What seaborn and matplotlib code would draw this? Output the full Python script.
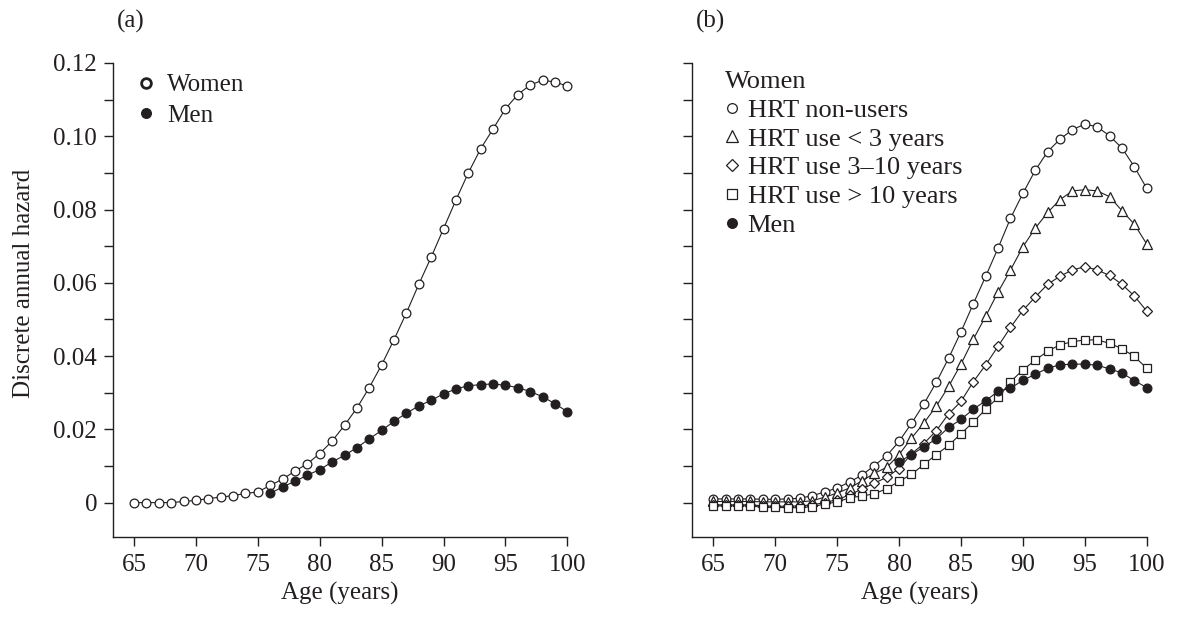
import matplotlib
matplotlib.use('Agg')
import matplotlib.pyplot as plt
import seaborn as sns
from matplotlib.lines import Line2D
from matplotlib.ticker import FixedLocator, NullFormatter

# ---------------- data ----------------
ages = list(range(65, 101))
women_a = [0.0000, 0.0000, 0.0000, 0.0000, 0.0003, 0.0006, 0.0011, 0.0015, 0.0019,
           0.0025, 0.0029, 0.0047, 0.0064, 0.0086, 0.0106, 0.0134, 0.0168, 0.0211,
           0.0258, 0.0314, 0.0376, 0.0445, 0.0518, 0.0596, 0.0670, 0.0748, 0.0826,
           0.0900, 0.0966, 0.1020, 0.1075, 0.1114, 0.1140, 0.1153, 0.1148, 0.1137]
men_a_ages = list(range(76, 101))
men_a = [0.0025, 0.0043, 0.0058, 0.0075, 0.0090, 0.0111, 0.0129, 0.0150, 0.0174,
         0.0197, 0.0222, 0.0244, 0.0264, 0.0279, 0.0297, 0.0310, 0.0319, 0.0322,
         0.0324, 0.0320, 0.0314, 0.0303, 0.0289, 0.0270, 0.0248]

hrt_non = [0.0010, 0.0010, 0.0010, 0.0010, 0.0009, 0.0009, 0.0010, 0.0012, 0.0019,
           0.0029, 0.0040, 0.0056, 0.0075, 0.0101, 0.0128, 0.0167, 0.0216, 0.0269,
           0.0328, 0.0394, 0.0466, 0.0543, 0.0618, 0.0695, 0.0776, 0.0844, 0.0907,
           0.0958, 0.0992, 0.1018, 0.1033, 0.1026, 0.1001, 0.0968, 0.0917, 0.0858]
hrt_lt3 = [0.0003, 0.0003, 0.0003, 0.0003, 0.0002, 0.0002, 0.0002, 0.0002, 0.0005,
           0.0015, 0.0026, 0.0040, 0.0059, 0.0080, 0.0096, 0.0131, 0.0176, 0.0217,
           0.0263, 0.0317, 0.0378, 0.0446, 0.0509, 0.0575, 0.0635, 0.0698, 0.0749,
           0.0792, 0.0827, 0.0851, 0.0854, 0.0851, 0.0835, 0.0797, 0.0760, 0.0706]
hrt_3_10 = [-0.0006, -0.0006, -0.0006, -0.0006, -0.0009, -0.0010, -0.0010, -0.0009, -0.0006,
            0.0000, 0.0008, 0.0021, 0.0037, 0.0053, 0.0069, 0.0093, 0.0133, 0.0161,
            0.0196, 0.0242, 0.0276, 0.0330, 0.0376, 0.0427, 0.0478, 0.0525, 0.0561,
            0.0596, 0.0618, 0.0635, 0.0644, 0.0635, 0.0620, 0.0596, 0.0564, 0.0523]
hrt_gt10 = [-0.0009, -0.0009, -0.0009, -0.0009, -0.0013, -0.0013, -0.0014, -0.0014, -0.0011,
            -0.0004, 0.0002, 0.0013, 0.0018, 0.0024, 0.0038, 0.0058, 0.0077, 0.0104,
            0.0131, 0.0156, 0.0188, 0.0220, 0.0255, 0.0287, 0.0330, 0.0362, 0.0389,
            0.0413, 0.0431, 0.0439, 0.0444, 0.0444, 0.0435, 0.0420, 0.0399, 0.0367]
men_b_ages = list(range(80, 101))
men_b = [0.0111, 0.0131, 0.0152, 0.0174, 0.0205, 0.0227, 0.0255, 0.0278, 0.0304,
         0.0312, 0.0334, 0.0350, 0.0367, 0.0376, 0.0378, 0.0378, 0.0375, 0.0365,
         0.0354, 0.0333, 0.0314]

x_ticks = [65, 70, 75, 80, 85, 90, 95, 100]
y_major = [0, 0.02, 0.04, 0.06, 0.08, 0.10, 0.12]
y_major_labels = ['0', '0.02', '0.04', '0.06', '0.08', '0.10', '0.12']
y_minor = [0.01, 0.03, 0.05, 0.07, 0.09, 0.11]
y_all = [0, 0.01, 0.02, 0.03, 0.04, 0.05, 0.06, 0.07, 0.08, 0.09, 0.10, 0.11, 0.12]

legend_a = ['Women', 'Men']
legend_b_title = 'Women'
legend_b = ['HRT non-users', 'HRT use < 3 years', 'HRT use 3\u201310 years',
            'HRT use > 10 years', 'Men']

# ---------------- style ----------------
sns.set_style('ticks')
plt.rcParams['font.family'] = ['Liberation Serif', 'DejaVu Serif']
ink = '#231f20'
FS = 18
FSB = 19

fig = plt.figure(figsize=(11.83, 6.17), dpi=100)
ax1 = fig.add_axes([0.0953, 0.1302, 0.3843, 0.7677])
ax2 = fig.add_axes([0.5850, 0.1302, 0.3843, 0.7677])

LW = 0.8
MS = 6.3
MEW = 0.9


def draw(ax, x, y, marker, face, ms=MS, z=3):
    sns.lineplot(x=x, y=y, ax=ax, color=ink, linewidth=LW, marker=marker,
                 markersize=ms, markerfacecolor=face, markeredgecolor=ink,
                 markeredgewidth=MEW, clip_on=False, zorder=z, estimator=None)


# panel (a)
draw(ax1, ages, women_a, 'o', 'white', z=3)
draw(ax1, men_a_ages, men_a, 'o', ink, z=4)

# panel (b)
draw(ax2, ages, hrt_non, 'o', 'white', z=3)
draw(ax2, ages, hrt_lt3, '^', 'white', ms=7.0, z=4)
draw(ax2, ages, hrt_3_10, 'D', 'white', ms=5.6, z=5)
draw(ax2, ages, hrt_gt10, 's', 'white', ms=6.2, z=6)
draw(ax2, men_b_ages, men_b, 'o', ink, z=7)

for ax in (ax1, ax2):
    ax.set_xlim(63.28, 100)
    ax.set_ylim(-0.0093, 0.12)
    ax.xaxis.set_major_locator(FixedLocator(x_ticks))
    ax.set_xticklabels([str(t) for t in x_ticks])
    sns.despine(ax=ax)
    for s in ('left', 'bottom'):
        ax.spines[s].set_linewidth(1.0)
        ax.spines[s].set_color(ink)
    ax.tick_params(axis='both', which='both', direction='out', length=6.2,
                   width=1.0, color=ink, labelcolor=ink, labelsize=FS)
    ax.tick_params(axis='x', pad=6)
    ax.tick_params(axis='y', pad=5)
    ax.set_xlabel('Age (years)', fontsize=FS, color=ink)
    ax.xaxis.set_label_coords(0.5, -0.095)
    ax.set_facecolor('white')

ax1.yaxis.set_major_locator(FixedLocator(y_major))
ax1.set_yticklabels(y_major_labels)
ax1.yaxis.set_minor_locator(FixedLocator(y_minor))
ax1.set_ylabel('Discrete annual hazard', fontsize=FS, color=ink)
ax1.yaxis.set_label_coords(-0.171, 0.5356)

ax2.yaxis.set_major_locator(FixedLocator(y_all))
ax2.yaxis.set_major_formatter(NullFormatter())
ax2.set_ylabel('')

# legends
mk = dict(color=ink, linestyle='none', markeredgecolor=ink)
h_a = [Line2D([], [], marker='o', markersize=7.0, markerfacecolor='white',
              markeredgewidth=2.0, **mk),
       Line2D([], [], marker='o', markersize=7.0, markerfacecolor=ink,
              markeredgewidth=MEW, **mk)]
leg1 = ax1.legend(h_a, legend_a, loc='upper left', bbox_to_anchor=(0.051, 0.977),
                  frameon=False, fontsize=FS, borderpad=0, borderaxespad=0,
                  handlelength=0.8, handletextpad=0.44, labelspacing=0.32,
                  labelcolor=ink)

h_b = [Line2D([], [], marker='o', markersize=7.0, markerfacecolor='white', markeredgewidth=MEW, **mk),
       Line2D([], [], marker='^', markersize=8.0, markerfacecolor='white', markeredgewidth=MEW, **mk),
       Line2D([], [], marker='D', markersize=6.5, markerfacecolor='white', markeredgewidth=MEW, **mk),
       Line2D([], [], marker='s', markersize=7.0, markerfacecolor='white', markeredgewidth=MEW, **mk),
       Line2D([], [], marker='o', markersize=7.0, markerfacecolor=ink, markeredgewidth=MEW, **mk)]
leg2 = ax2.legend(h_b, legend_b, title=legend_b_title, title_fontsize=FSB,
                  loc='upper left', bbox_to_anchor=(0.0715, 0.983), alignment='left',
                  frameon=False, fontsize=FSB, borderpad=0, borderaxespad=0,
                  handlelength=0.57, handletextpad=0.3, labelspacing=0.2,
                  labelcolor=ink)
leg2.get_title().set_color(ink)

fig.text(117 / 1183, 1 - 21 / 617, '(a)', fontsize=FS, color=ink, va='center', ha='left')
fig.text(696 / 1183, 1 - 21 / 617, '(b)', fontsize=FS, color=ink, va='center', ha='left')

fig.savefig('out.png', dpi=100, facecolor='white')
